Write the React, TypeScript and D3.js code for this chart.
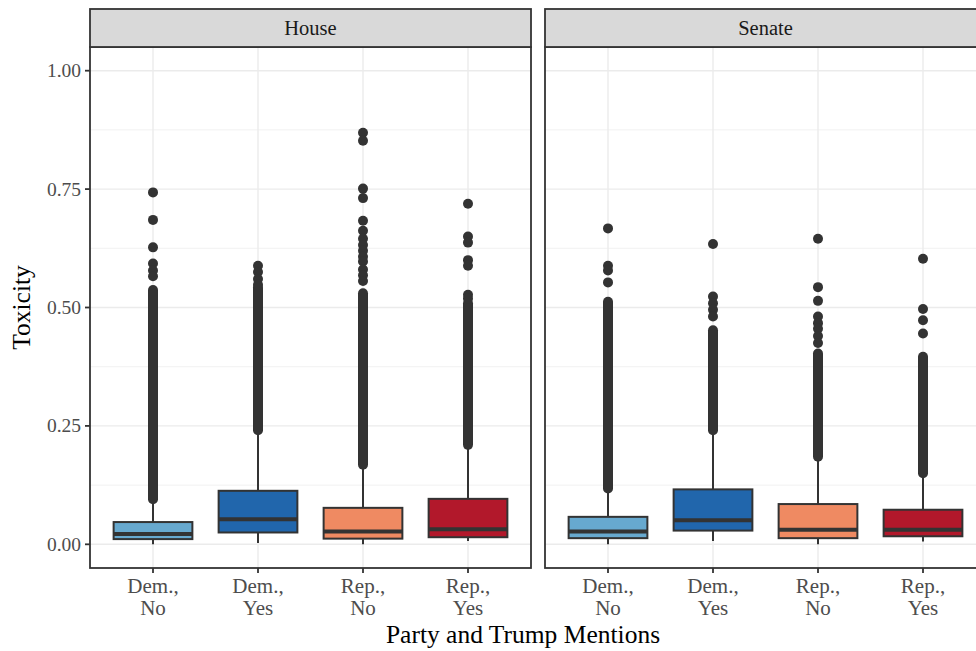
import React from 'react';
import * as d3 from 'd3';

// facets and categories
const panels = ['House', 'Senate'];
const categories = ['Dem., No', 'Dem., Yes', 'Rep., No', 'Rep., Yes'];
const fills = ['#67a9cf', '#2166ac', '#ef8a62', '#b2182b'];
const yTicks = [0, 0.25, 0.5, 0.75, 1];
const yMinor = [0.125, 0.375, 0.625, 0.875];

// [lower whisker, q1, median, q3, upper whisker]
const houseBoxes = [
    [0.0, 0.011, 0.022, 0.047, 0.09],
    [0.003, 0.025, 0.053, 0.113, 0.238],
    [0.0, 0.012, 0.027, 0.077, 0.165],
    [0.007, 0.015, 0.032, 0.096, 0.205],
];
const senateBoxes = [
    [0.0, 0.013, 0.027, 0.058, 0.114],
    [0.007, 0.029, 0.051, 0.116, 0.238],
    [0.0, 0.013, 0.031, 0.085, 0.182],
    [0.006, 0.017, 0.031, 0.073, 0.148],
];

// continuous runs of overlapping outliers [from, to]
const houseDense = [[0.095, 0.537], [0.241, 0.542], [0.168, 0.53], [0.21, 0.509]];
const senateDense = [[0.118, 0.512], [0.241, 0.452], [0.185, 0.403], [0.15, 0.396]];

// separate outliers
const houseOutliers = [
    [0.743, 0.685, 0.627, 0.593, 0.578, 0.566],
    [0.588, 0.575, 0.56, 0.548],
    [0.869, 0.852, 0.751, 0.731, 0.683, 0.662, 0.645, 0.632, 0.62, 0.607, 0.597, 0.58, 0.568, 0.556],
    [0.719, 0.65, 0.637, 0.6, 0.588, 0.527, 0.519],
];
const senateOutliers = [
    [0.667, 0.588, 0.578, 0.553],
    [0.634, 0.523, 0.509, 0.495, 0.481],
    [0.645, 0.543, 0.514, 0.481, 0.467, 0.455, 0.44, 0.425],
    [0.603, 0.497, 0.473, 0.445],
];

const panelData = [
    { boxes: houseBoxes, dense: houseDense, outliers: houseOutliers },
    { boxes: senateBoxes, dense: senateDense, outliers: senateOutliers },
];

const W = 976;
const H = 651;
const font = '"Liberation Serif", "Times New Roman", serif';
const ink = '#333333';

const panelLeft = [90, 545];
const panelW = 441;
const stripTop = 9;
const panelTop = 47;
const panelBottom = 568;
const R = 5;

const y = d3.scaleLinear().domain([-0.05, 1.05]).range([panelBottom, panelTop]);

const Panel = ({ idx }: { idx: number }) => {
    const x0 = panelLeft[idx];
    const x = d3.scalePoint<string>().domain(categories).range([x0, x0 + panelW]).padding(0.6);
    const bw = x.step() * 0.75;
    const d = panelData[idx];
    return (
        <g>
            <rect x={x0} y={panelTop} width={panelW} height={panelBottom - panelTop} fill="#fff" />
            {yMinor.map(t => (
                <line key={'m' + t} x1={x0} x2={x0 + panelW} y1={y(t)} y2={y(t)} stroke="#ebebeb" strokeWidth={0.7} />
            ))}
            {yTicks.map(t => (
                <line key={'g' + t} x1={x0} x2={x0 + panelW} y1={y(t)} y2={y(t)} stroke="#ebebeb" strokeWidth={1.4} />
            ))}
            {categories.map(c => (
                <line key={'v' + c} x1={x(c)} x2={x(c)} y1={panelTop} y2={panelBottom} stroke="#ebebeb" strokeWidth={1.4} />
            ))}
            {categories.map((c, i) => {
                const [lo, q1, med, q3, hi] = d.boxes[i];
                const cx = x(c) as number;
                return (
                    <g key={c}>
                        <line x1={cx} x2={cx} y1={y(lo)} y2={y(q1)} stroke={ink} strokeWidth={2} />
                        <line x1={cx} x2={cx} y1={y(q3)} y2={y(hi)} stroke={ink} strokeWidth={2} />
                        <line x1={cx} x2={cx} y1={y(d.dense[i][0])} y2={y(d.dense[i][1])} stroke={ink} strokeWidth={R * 2} strokeLinecap="round" />
                        {d.outliers[i].map((v, k) => (
                            <circle key={k} cx={cx} cy={y(v)} r={R} fill={ink} />
                        ))}
                        <rect x={cx - bw / 2} y={y(q3)} width={bw} height={y(q1) - y(q3)} fill={fills[i]} stroke={ink} strokeWidth={2} />
                        <line x1={cx - bw / 2} x2={cx + bw / 2} y1={y(med)} y2={y(med)} stroke={ink} strokeWidth={4} />
                    </g>
                );
            })}
            <rect x={x0} y={panelTop} width={panelW} height={panelBottom - panelTop} fill="none" stroke={ink} strokeWidth={1.8} />
            <rect x={x0} y={stripTop} width={panelW} height={panelTop - stripTop} fill="#d9d9d9" stroke={ink} strokeWidth={1.8} />
            <text x={x0 + panelW / 2} y={(stripTop + panelTop) / 2 + 7} textAnchor="middle" fontSize={20.5} fill="#1a1a1a">{panels[idx]}</text>
            {categories.map(c => {
                const [a, b] = c.split(' ');
                const cx = x(c) as number;
                return (
                    <g key={'t' + c}>
                        <line x1={cx} x2={cx} y1={panelBottom} y2={panelBottom + 5} stroke={ink} strokeWidth={1.8} />
                        <text x={cx} y={593} textAnchor="middle" fontSize={21} fill="#4d4d4d">{a}</text>
                        <text x={cx} y={615} textAnchor="middle" fontSize={21} fill="#4d4d4d">{b}</text>
                    </g>
                );
            })}
        </g>
    );
};

const App = () => {
    return (
        <svg width={W} height={H} style={{ position: 'absolute', left: 0, top: 0, background: '#fff' }} fontFamily={font}>
            <rect width={W} height={H} fill="#fff" />
            <Panel idx={0} />
            <Panel idx={1} />
            {yTicks.map(t => (
                <g key={'yt' + t}>
                    <line x1={85} x2={90} y1={y(t)} y2={y(t)} stroke={ink} strokeWidth={1.8} />
                    <text x={81} y={y(t) + 6.5} textAnchor="end" fontSize={19.5} fill="#4d4d4d">{t.toFixed(2)}</text>
                </g>
            ))}
            <text x={523} y={643} textAnchor="middle" fontSize={25.5} fill="#000">Party and Trump Mentions</text>
            <text transform={`translate(30,${(panelTop + panelBottom) / 2}) rotate(-90)`} textAnchor="middle" fontSize={25.5} fill="#000">Toxicity</text>
        </svg>
    );
};

export default App;
